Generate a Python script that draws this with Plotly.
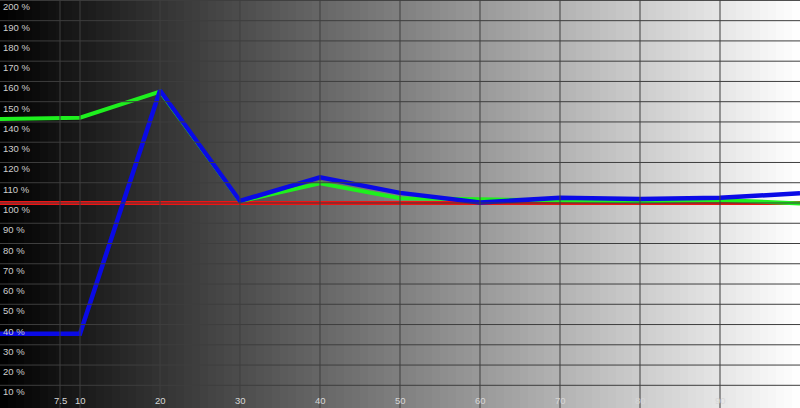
import numpy as np
import plotly.graph_objects as go

# Data
x_points = [0, 7.5, 10, 20, 30, 40, 50, 60, 70, 80, 90, 100]
red_vals = [100, 100, 100, 100, 100, 100, 100, 100, 100, 100, 100, 100]
green_vals = [141.4, 141.9, 142.1, 155.0, 100.8, 109.7, 102.3, 101.8, 101.5, 100.8, 101.5, 99.8]
blue_vals = [35.5, 35.5, 35.5, 155.5, 101.0, 112.7, 105.0, 100.2, 102.6, 102.0, 102.6, 104.8]

x_tick_vals = [7.5, 10, 20, 30, 40, 50, 60, 70, 80, 90]
x_tick_text = ["7.5", "10", "20", "30", "40", "50", "60", "70", "80", "90"]
y_tick_vals = [10, 20, 30, 40, 50, 60, 70, 80, 90, 100, 110, 120, 130, 140, 150, 160, 170, 180, 190, 200]
y_tick_text = [f"{v} %" for v in y_tick_vals]

# background gradient bands (grey level per percent band)
bg_x = list(np.arange(0.5, 100.5, 1.0))
bg_level = list(np.arange(0.5, 100.5, 1.0))

fig = go.Figure()

fig.add_trace(go.Heatmap(
    x=bg_x, y=[-5, 210], z=[bg_level, bg_level],
    colorscale=[[0, "rgb(0,0,0)"], [1, "rgb(255,255,255)"]],
    zmin=0, zmax=100, showscale=False, hoverinfo="skip", zsmooth=False,
))

grid_col = "rgb(62,62,62)"
for v in y_tick_vals:
    fig.add_shape(type="line", xref="paper", x0=0, x1=1, yref="y", y0=v, y1=v,
                  line=dict(color=grid_col, width=1), layer="above")
for v in x_tick_vals:
    fig.add_shape(type="line", xref="x", x0=v, x1=v, yref="paper", y0=0, y1=1,
                  line=dict(color=grid_col, width=1), layer="above")

fig.add_trace(go.Scatter(x=x_points, y=red_vals, mode="lines",
                         line=dict(color="#ee1414", width=4), hoverinfo="skip"))
fig.add_trace(go.Scatter(x=x_points, y=green_vals, mode="lines",
                         line=dict(color="#1ef01e", width=4), hoverinfo="skip"))
fig.add_trace(go.Scatter(x=x_points, y=blue_vals, mode="lines",
                         line=dict(color="#0a0ae6", width=4.5), hoverinfo="skip"))

annotations = []
for v, t in zip(y_tick_vals, y_tick_text):
    annotations.append(dict(x=0, xref="paper", xanchor="left", xshift=1,
                            y=v, yref="y", yanchor="top", yshift=1,
                            text=t, showarrow=False,
                            font=dict(family="Liberation Sans", size=9.5, color="rgb(205,205,205)")))
for v, t in zip(x_tick_vals, x_tick_text):
    annotations.append(dict(x=v, xref="x", xanchor="center",
                            y=0, yref="paper", yanchor="bottom", yshift=0,
                            text=t, showarrow=False,
                            font=dict(family="Liberation Sans", size=9.5, color="rgb(215,215,215)")))

fig.update_layout(
    width=800, height=408,
    margin=dict(l=0, r=0, t=0, b=0),
    paper_bgcolor="black", plot_bgcolor="black",
    showlegend=False,
    annotations=annotations,
    xaxis=dict(range=[0, 100], showgrid=False, zeroline=False, showticklabels=False, fixedrange=True),
    yaxis=dict(range=[-1.2, 200.2], showgrid=False, zeroline=False, showticklabels=False, fixedrange=True),
)

fig.write_html("out.html", config={"displayModeBar": False},
               post_script="document.body.style.margin='0';document.body.style.padding='0';document.body.style.overflow='hidden';")
